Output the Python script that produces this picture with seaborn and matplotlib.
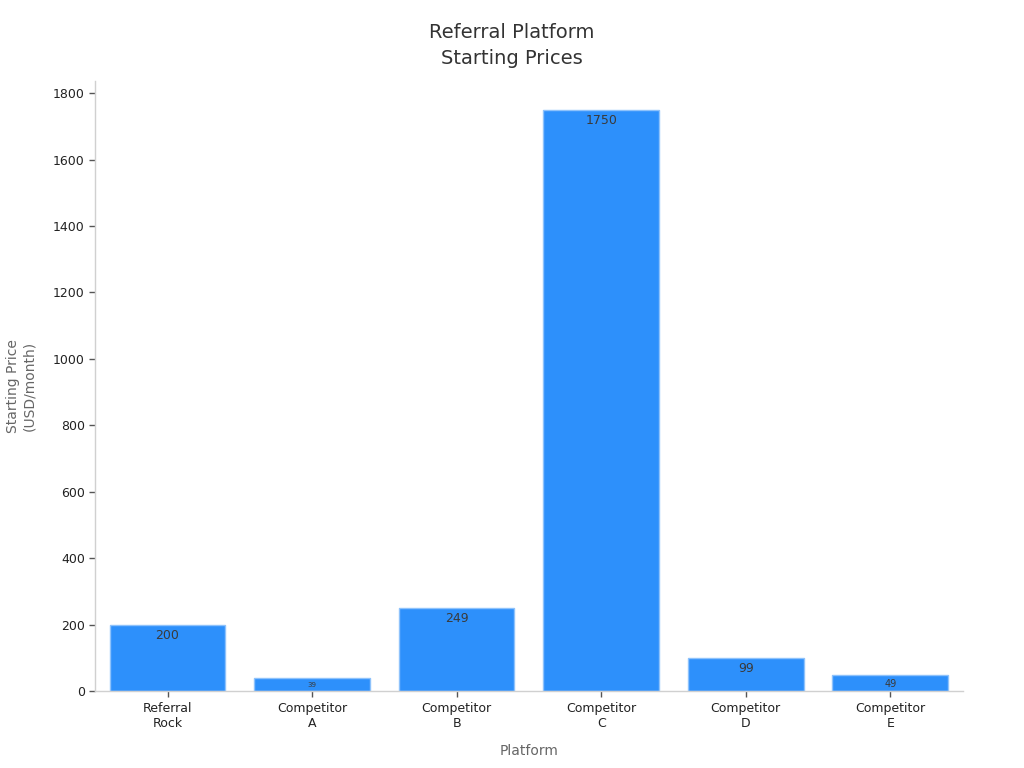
import pandas as pd
import seaborn as sns
import matplotlib.pyplot as plt

# values
platforms = ['Referral\nRock', 'Competitor\nA', 'Competitor\nB',
             'Competitor\nC', 'Competitor\nD', 'Competitor\nE']
prices = [200, 39, 249, 1750, 99, 49]
label_sizes = [9, 5, 9, 9, 9, 7]

df = pd.DataFrame({'Platform': platforms, 'Price': prices})

sns.set_theme(style='white')
plt.rcParams['font.family'] = ['DejaVu Sans']

fig, ax = plt.subplots(figsize=(10.24, 7.68), dpi=100)
sns.barplot(data=df, x='Platform', y='Price', color='#2d90fb',
            saturation=1, edgecolor='#8ec2fb', linewidth=1, width=0.8, ax=ax)

# value labels just inside the top of each bar
for i, (p, fs) in enumerate(zip(prices, label_sizes)):
    ax.text(i, p - 12, str(p), ha='center', va='top',
            fontsize=fs, color='#3a3a3a')

ax.set_ylim(0, max(prices) * 1.05)
ax.set_xlim(-0.5, 5.5)
sns.despine(ax=ax)
for side in ('left', 'bottom'):
    ax.spines[side].set_color('#d0d0d0')
    ax.spines[side].set_linewidth(1)

ax.tick_params(axis='both', which='both', length=4, width=1,
               color='#555555', labelsize=9, labelcolor='#222222',
               left=True, bottom=True)
ax.set_yticks(range(0, 1801, 200))

ax.set_xlabel('Platform', fontsize=10, color='#666666', labelpad=10)
ax.set_ylabel('Starting Price\n(USD/month)', fontsize=10, color='#666666',
              labelpad=12)
fig.suptitle('Referral Platform\nStarting Prices', fontsize=14,
             color='#333333', x=0.5, y=0.97, va='top', linespacing=1.45)

fig.subplots_adjust(left=0.093, right=0.94, top=0.895, bottom=0.1)
fig.savefig('out.png', dpi=100)
